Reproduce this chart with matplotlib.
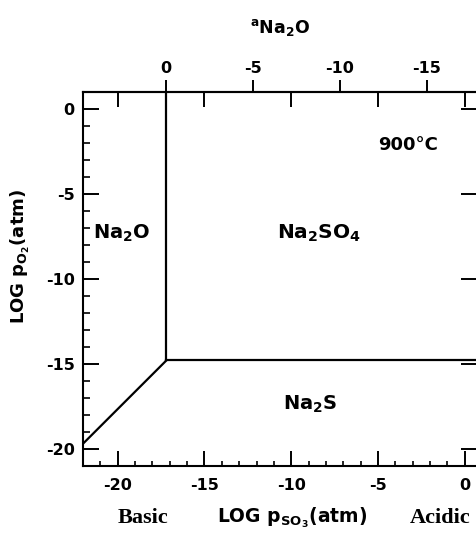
import matplotlib.pyplot as plt
from matplotlib.ticker import MultipleLocator

plt.rcParams['font.family'] = ['DejaVu Sans']
plt.rcParams['font.weight'] = 'bold'
plt.rcParams['axes.labelweight'] = 'bold'
plt.rcParams['axes.unicode_minus'] = False
plt.rcParams['mathtext.fontset'] = 'custom'
plt.rcParams['mathtext.rm'] = 'DejaVu Sans:bold'
plt.rcParams['mathtext.default'] = 'rm'

# phase boundaries, log pSO3 vs log pO2 at 900 C
na2o_so4_x = [-17.2, -17.2]
na2o_so4_y = [1.0, -14.8]
so4_s_x = [-17.2, 0.7]
so4_s_y = [-14.8, -14.8]
na2o_s_x = [-22.0, -17.2]
na2o_s_y = [-19.7, -14.8]

x_ticks = [-20, -15, -10, -5, 0]
y_ticks = [0, -5, -10, -15, -20]
a_ticks = [0, -5, -10, -15]   # log a(Na2O), top scale
a_offset = -17.2              # log pSO3 where a(Na2O) = 1

fig = plt.figure(figsize=(4.77, 5.36), dpi=100)
ax = fig.add_axes([0.174, 0.131, 0.826, 0.697])

ax.plot(na2o_so4_x, na2o_so4_y, color='black', lw=1.6)
ax.plot(so4_s_x, so4_s_y, color='black', lw=1.6)
ax.plot(na2o_s_x, na2o_s_y, color='black', lw=1.6)

ax.set_xlim(-22, 0.7)
ax.set_ylim(-21, 1)
ax.set_xticks(x_ticks)
ax.set_yticks(y_ticks)
ax.xaxis.set_minor_locator(MultipleLocator(1))
ax.yaxis.set_minor_locator(MultipleLocator(1))
ax.tick_params(which='major', direction='in', width=1.4,
               labelsize=11.5, top=True, right=True)
ax.tick_params(which='minor', direction='in', width=1.2,
               bottom=True, left=True, top=False, right=False)
ax.tick_params(axis='x', which='major', length=10.5, pad=9)
ax.tick_params(axis='y', which='major', length=11.5, pad=6)
ax.tick_params(axis='x', which='minor', length=3.6)
ax.tick_params(axis='y', which='minor', length=5)
for s in ['left', 'bottom', 'top']:
    ax.spines[s].set_linewidth(1.5)
ax.spines['right'].set_visible(False)

sec = ax.secondary_xaxis('top', functions=(lambda x: a_offset - x,
                                            lambda t: a_offset - t))
sec.set_xticks(a_ticks)
sec.tick_params(direction='out', length=8.6, width=1.4, labelsize=11.5, pad=3)
sec.spines['top'].set_linewidth(1.5)
sec.set_xlabel(r'$^{a}$Na$_2$O', fontsize=12.5, labelpad=20)

ax.set_ylabel(r'LOG p$_{O_2}$(atm)', fontsize=13)
ax.yaxis.set_label_coords(-0.13, 0.56)

ax.text(-21.4, -7.3, r'Na$_2$O', fontsize=14, va='center', ha='left')
ax.text(-8.4, -7.3, r'Na$_2$SO$_4$', fontsize=14.5, va='center', ha='center')
ax.text(-8.9, -17.4, r'Na$_2$S', fontsize=14, va='center', ha='center')
ax.text(-3.3, -2.1, '900°C', fontsize=13, va='center', ha='center')

fig.text(0.30, 0.034, 'Basic', family='Liberation Serif', fontsize=16,
         weight='bold', ha='center', va='center')
fig.text(0.612, 0.034, r'LOG p$_{SO_3}$(atm)', fontsize=13.5,
         ha='center', va='center')
fig.text(0.922, 0.034, 'Acidic', family='Liberation Serif', fontsize=16,
         weight='bold', ha='center', va='center')

fig.savefig('out.png', dpi=100)
